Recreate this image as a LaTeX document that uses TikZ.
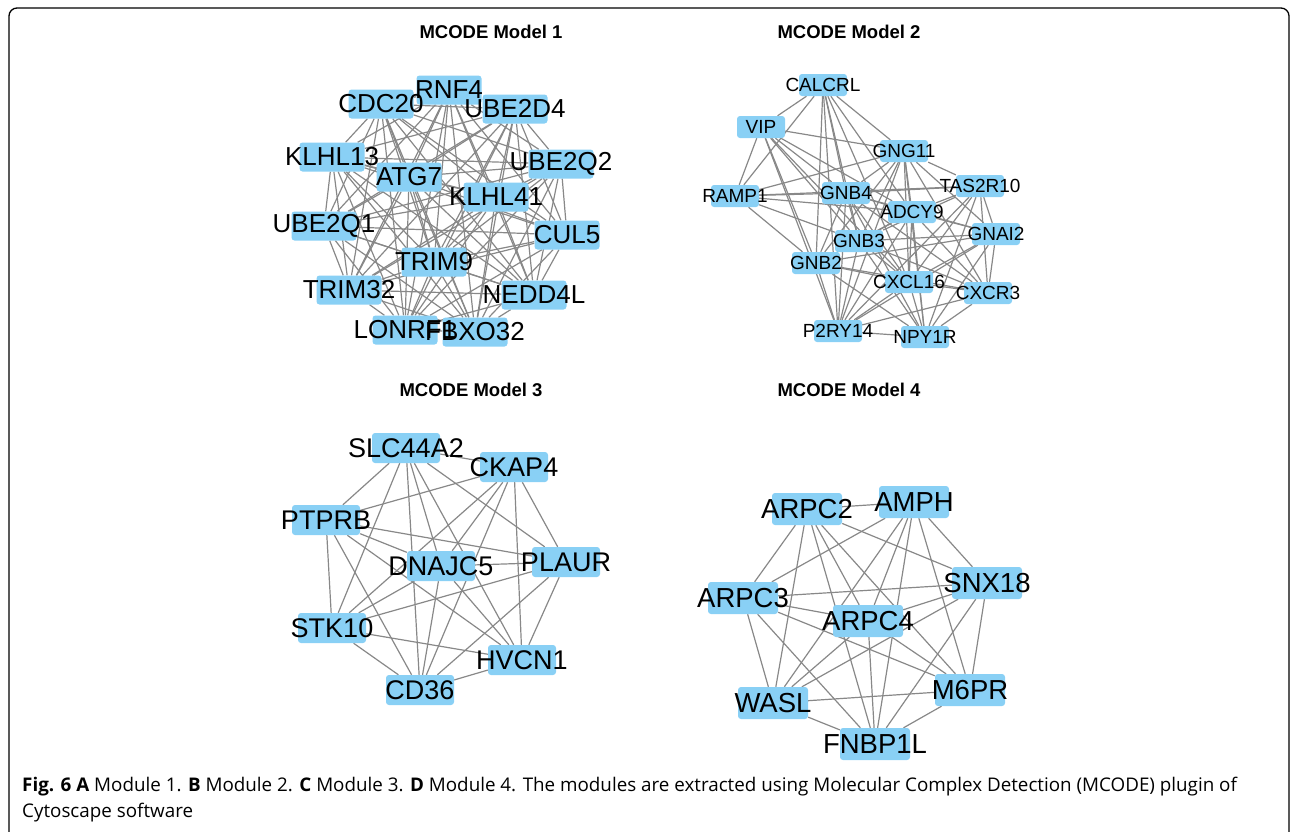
\documentclass[tikz,border=0pt]{standalone}
\usepackage{fontspec}
\setmainfont{Liberation Sans}
\newfontfamily\capfont{Open Sans}
\usetikzlibrary{backgrounds}

\definecolor{genefill}{RGB}{137,208,245}
\definecolor{edgegray}{RGB}{136,136,136}

\pgfdeclarelayer{labels}
\pgfsetlayers{background,main,labels}

\tikzset{
  genebox/.style={fill=genefill, rounded corners=3pt, inner sep=0pt},
  modA/.style={genebox, minimum width=65pt, minimum height=29pt},
  modB/.style={genebox, minimum width=48pt, minimum height=22pt},
  modC/.style={genebox, minimum width=68pt, minimum height=30pt},
  modD/.style={genebox, minimum width=70pt, minimum height=32pt},
  modAtext/.style={font=\fontsize{26}{26}\selectfont},
  modBtext/.style={font=\fontsize{19}{19}\selectfont},
  modCtext/.style={font=\fontsize{27}{27}\selectfont},
  modDtext/.style={font=\fontsize{27.5}{27.5}\selectfont},
  edge/.style={draw=edgegray, line width=1.2pt},
  title/.style={font=\fontsize{18.5}{18.5}\selectfont\bfseries}
}

% box and label of one gene
\newcommand{\gene}[4]{%
  \node[mod#1] (#2) at (#3) {};
  \begin{pgfonlayer}{labels}
    \node[inner sep=0pt, mod#1text] at (#2) {#4};
  \end{pgfonlayer}
}

\begin{document}
\begin{tikzpicture}[x=1pt, y=-1pt]
    \useasboundingbox (0,0) rectangle (1290,831);

    % frame
    \draw [line width=1.3pt, rounded corners=8pt] (9,845) -- (9,8) -- (1289,8) -- (1289,845);

    % titles
    \node[title] (t1) at (491,32) {MCODE Model 1};
    \node[title] (t2) at (849,32) {MCODE Model 2};
    \node[title] (t3) at (471,390) {MCODE Model 3};
    \node[title] (t4) at (849,390) {MCODE Model 4};

    % model 1
    \gene{A}{cdc20}{381,104}{CDC20}
    \gene{A}{rnf4}{449,90}{RNF4}
    \gene{A}{ube2d4}{515,109}{UBE2D4}
    \gene{A}{klhl13}{332,157}{KLHL13}
    \gene{A}{ube2q2}{561,164}{UBE2Q2}
    \gene{A}{atg7}{409,177}{ATG7}
    \gene{A}{klhl41}{496,197}{KLHL41}
    \gene{A}{ube2q1}{324,226}{UBE2Q1}
    \gene{A}{cul5}{567,235}{CUL5}
    \gene{A}{trim9}{434,262}{TRIM9}
    \gene{A}{trim32}{349,290}{TRIM32}
    \gene{A}{nedd4l}{534,295}{NEDD4L}
    \gene{A}{lonrf1}{405,330}{LONRF1}
    \gene{A}{fbxo32}{475,332}{FBXO32}

    % model 2
    \gene{B}{calcrl}{823,85}{CALCRL}
    \gene{B}{vip}{761,127}{VIP}
    \gene{B}{gng11}{904,151}{GNG11}
    \gene{B}{tas2r10}{980,186}{TAS2R10}
    \gene{B}{ramp1}{735,196}{RAMP1}
    \gene{B}{gnb4}{846,193}{GNB4}
    \gene{B}{adcy9}{912,212}{ADCY9}
    \gene{B}{gnai2}{996,234}{GNAI2}
    \gene{B}{gnb3}{859,241}{GNB3}
    \gene{B}{gnb2}{816,263}{GNB2}
    \gene{B}{cxcl16}{909,282}{CXCL16}
    \gene{B}{cxcr3}{988,293}{CXCR3}
    \gene{B}{p2ry14}{838,331}{P2RY14}
    \gene{B}{npy1r}{925,337}{NPY1R}

    % model 3
    \gene{C}{slc44a2}{406,448}{SLC44A2}
    \gene{C}{ckap4}{514,467}{CKAP4}
    \gene{C}{ptprb}{326,520}{PTPRB}
    \gene{C}{dnajc5}{441,566}{DNAJC5}
    \gene{C}{plaur}{566,562}{PLAUR}
    \gene{C}{stk10}{332,628}{STK10}
    \gene{C}{hvcn1}{522,660}{HVCN1}
    \gene{C}{cd36}{420,690}{CD36}

    % model 4
    \gene{D}{arpc2}{807,509}{ARPC2}
    \gene{D}{amph}{914,502}{AMPH}
    \gene{D}{snx18}{987,583}{SNX18}
    \gene{D}{arpc3}{743,598}{ARPC3}
    \gene{D}{arpc4}{868,621}{ARPC4}
    \gene{D}{m6pr}{970,690}{M6PR}
    \gene{D}{wasl}{773,703}{WASL}
    \gene{D}{fnbp1l}{875,744}{FNBP1L}

    % edges
    \begin{scope}[on background layer]
      % model 1: every pair
      \foreach \a [count=\i] in {cdc20,rnf4,ube2d4,klhl13,ube2q2,atg7,klhl41,ube2q1,cul5,trim9,trim32,nedd4l,lonrf1,fbxo32}
        \foreach \b [count=\j] in {cdc20,rnf4,ube2d4,klhl13,ube2q2,atg7,klhl41,ube2q1,cul5,trim9,trim32,nedd4l,lonrf1,fbxo32}
          {\ifnum\j>\i \draw[edge] (\a) -- (\b); \fi}

      % model 2
      \foreach \a/\b in {calcrl/vip, calcrl/ramp1, calcrl/gnb2, calcrl/gnb4, calcrl/gnb3, calcrl/adcy9, calcrl/gng11, calcrl/p2ry14, calcrl/cxcl16,
          vip/ramp1, vip/gng11, vip/gnb4, vip/gnb3, vip/gnb2, vip/adcy9, vip/cxcl16, vip/p2ry14,
          ramp1/gng11, ramp1/gnb4, ramp1/adcy9, ramp1/gnb2, ramp1/gnb3, ramp1/tas2r10,
          gng11/gnb4, gng11/adcy9, gng11/gnb3, gng11/gnb2, gng11/tas2r10, gng11/gnai2, gng11/cxcl16, gng11/cxcr3, gng11/npy1r, gng11/p2ry14,
          tas2r10/gnb4, tas2r10/adcy9, tas2r10/gnai2, tas2r10/cxcr3, tas2r10/cxcl16, tas2r10/npy1r, tas2r10/p2ry14, tas2r10/gnb3,
          gnb4/adcy9, gnb4/gnb3, gnb4/gnb2, gnb4/gnai2, gnb4/cxcl16, gnb4/cxcr3, gnb4/npy1r, gnb4/p2ry14,
          adcy9/gnai2, adcy9/gnb3, adcy9/gnb2, adcy9/cxcl16, adcy9/npy1r, adcy9/p2ry14, adcy9/cxcr3,
          gnai2/gnb3, gnai2/gnb2, gnai2/cxcl16, gnai2/cxcr3, gnai2/npy1r, gnai2/p2ry14,
          gnb3/gnb2, gnb3/cxcl16, gnb3/cxcr3, gnb3/npy1r, gnb3/p2ry14,
          gnb2/cxcl16, gnb2/cxcr3, gnb2/p2ry14, gnb2/npy1r,
          cxcl16/cxcr3, cxcl16/p2ry14, cxcl16/npy1r,
          cxcr3/p2ry14, cxcr3/npy1r, p2ry14/npy1r}
        \draw[edge] (\a) -- (\b);

      % model 3: every pair
      \foreach \a [count=\i] in {slc44a2,ckap4,ptprb,dnajc5,plaur,stk10,hvcn1,cd36}
        \foreach \b [count=\j] in {slc44a2,ckap4,ptprb,dnajc5,plaur,stk10,hvcn1,cd36}
          {\ifnum\j>\i \draw[edge] (\a) -- (\b); \fi}

      % model 4: every pair
      \foreach \a [count=\i] in {arpc2,amph,snx18,arpc3,arpc4,m6pr,wasl,fnbp1l}
        \foreach \b [count=\j] in {arpc2,amph,snx18,arpc3,arpc4,m6pr,wasl,fnbp1l}
          {\ifnum\j>\i \draw[edge] (\a) -- (\b); \fi}
    \end{scope}

    % caption
    \node[anchor=base west, inner sep=0pt, align=left,
          font=\capfont\fontsize{18.8}{26}\selectfont] (cap) at (22,817)
      {\textbf{Fig. 6 A} Module 1. \textbf{B} Module 2. \textbf{C} Module 3. \textbf{D} Module 4. The modules are extracted using Molecular Complex Detection (MCODE) plugin of\\
       Cytoscape software};
\end{tikzpicture}
\end{document}
